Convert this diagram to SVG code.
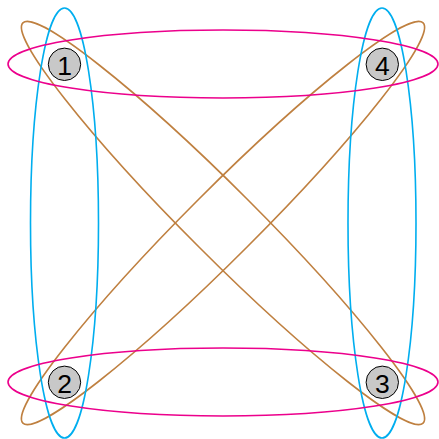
<svg xmlns="http://www.w3.org/2000/svg" width="439" height="439" viewBox="0 0 439 439">
<style>
.e{fill:none;stroke-width:1.6}
.m{stroke:#ec008c}
.c{stroke:#00aeef}
.b{stroke:#bf8040}
.n circle{fill:#c8c8c8;stroke:#000;stroke-width:1}
.n text{font-family:"Liberation Sans","DejaVu Sans",sans-serif;font-size:26.5px;text-anchor:middle;fill:#000}
</style>
<rect width="439" height="439" fill="#fff"/>
<g id="connectors">
<ellipse class="e b" cx="223" cy="223" rx="283" ry="34" transform="rotate(45 223 223)"/>
<ellipse class="e b" cx="223" cy="223" rx="283" ry="34" transform="rotate(-45 223 223)"/>
<ellipse class="e c" cx="64.5" cy="223" rx="34" ry="215"/>
<ellipse class="e c" cx="382" cy="223" rx="34" ry="215"/>
<ellipse class="e m" cx="223" cy="64" rx="215" ry="34"/>
<ellipse class="e m" cx="223" cy="382" rx="215" ry="34"/>
</g>
<g id="n1" class="n"><circle cx="64.5" cy="64.3" r="16.2"/><text x="64.5" y="74.7">1</text></g>
<g id="n2" class="n"><circle cx="64.5" cy="382.3" r="16.2"/><text x="64.5" y="392.7">2</text></g>
<g id="n3" class="n"><circle cx="382.3" cy="382.3" r="16.2"/><text x="382.3" y="392.7">3</text></g>
<g id="n4" class="n"><circle cx="382.3" cy="64.3" r="16.2"/><text x="382.3" y="74.7">4</text></g>
</svg>
